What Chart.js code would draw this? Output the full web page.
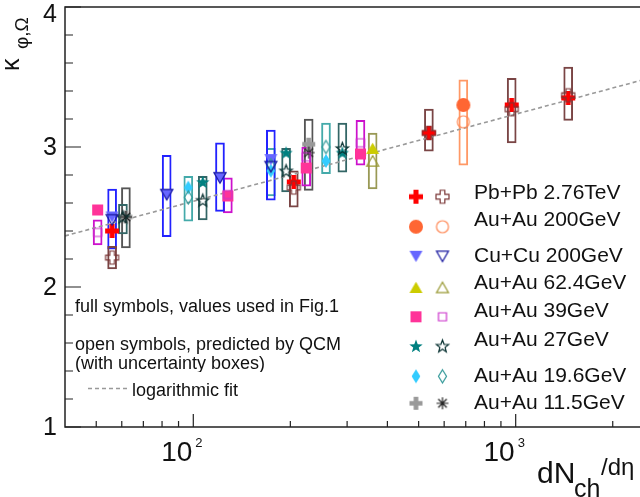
<!DOCTYPE html>
<html>
<head>
<meta charset="utf-8">
<title>kappa vs dNch/deta</title>
<script src="https://cdn.jsdelivr.net/npm/chart.js@4.4.1/dist/chart.umd.min.js"></script>
<style>
  body { margin: 0; background: #fff; }
  #wrap { width: 640px; height: 497px; }
</style>
</head>
<body>
<div id="wrap"><canvas id="kappaChart" width="640" height="497"></canvas></div>
<script>
// values (x = dNch/deta, full = filled symbol, open = QCM, lo/hi = box)
const pbX    = [56, 205, 538, 972, 1455];
const pbFull = [2.40, 2.75, 3.10, 3.30, 3.35];
const pbOpen = [2.21, 2.71, 3.10, 3.27, 3.37];
const pbLo   = [2.13, 2.57, 2.97, 3.03, 3.19];
const pbHi   = [2.29, 2.83, 3.27, 3.49, 3.57];

const au200X    = [688];
const au200Full = [3.30];
const au200Open = [3.18];
const au200Lo   = [2.87];
const au200Hi   = [3.48];

const cuX    = [56, 82.7, 121, 174];
const cuFull = [2.50, 2.66, 2.78, 2.91];
const cuOpen = [2.48, 2.66, 2.78, 2.86];
const cuLo   = [2.27, 2.36, 2.54, 2.62];
const cuHi   = [2.70, 2.94, 3.03, 3.12];

const au62X    = [360];
const au62Full = [2.99];
const au62Open = [2.90];
const au62Lo   = [2.70];
const au62Hi   = [3.10];

const au39X    = [50.5, 128, 224, 330];
const au39Full = [2.55, 2.65, 2.85, 2.95];
const au39Open = [2.39, 2.66, 2.93, 3.03];
const au39Lo   = [2.30, 2.53, 2.72, 2.87];
const au39Hi   = [2.48, 2.78, 3.00, 3.19];

const au27X    = [60.5, 107, 194, 290];
const au27Full = [null, 2.75, 2.96, 2.96];
const au27Open = [2.50, 2.62, 2.83, 2.99];
const au27Lo   = [2.38, 2.48, 2.68, 2.82];
const au27Hi   = [2.59, 2.79, 2.99, 3.17];

const au19X    = [96.5, 174, 258];
const au19Full = [2.71, 2.83, 2.90];
const au19Open = [2.64, 2.87, 3.00];
const au19Lo   = [2.47, 2.65, 2.81];
const au19Hi   = [2.79, 2.99, 3.17];

const au11X    = [61.8, 228];
const au11Full = [2.50, 3.02];
const au11Open = [2.50, 2.96];
const au11Lo   = [2.28, 2.69];
const au11Hi   = [2.71, 3.20];

// logarithmic fit (straight on a log x axis)
const fitX = [40, 2430];
const fitY = [2.365, 3.474];

const seriesNames = ["Pb+Pb 2.76TeV", "Au+Au 200GeV", "Cu+Cu 200GeV", "Au+Au 62.4GeV",
                     "Au+Au 39GeV", "Au+Au 27GeV", "Au+Au 19.6GeV", "Au+Au 11.5GeV"];

const xMajorTicks = [100, 1000];
const xTickLabels = ["2", "3"];   // exponents of 10
const xMinorTicks = [50, 60, 70, 80, 90, 200, 300, 400, 500, 600, 700, 800, 900, 2000];
const yMajorTicks = [1, 2, 3, 4];
const yTickLabels = ["1", "2", "3", "4"];
const yMinorTicks = [1.2, 1.4, 1.6, 1.8, 2.2, 2.4, 2.6, 2.8, 3.2, 3.4, 3.6, 3.8];

const FONT = '"Liberation Sans", Arial, sans-serif';

// draw a ROOT-like marker on a small canvas, used as pointStyle
function marker(shape, color, filled, size) {
  const c = document.createElement("canvas");
  const d = Math.ceil(size) + 4;
  c.width = d; c.height = d;
  const g = c.getContext("2d");
  g.translate(d / 2, d / 2);
  g.fillStyle = color;
  g.strokeStyle = color;
  g.lineWidth = 1.2;
  const h = size / 2;
  g.beginPath();
  if (shape === "plus") {
    const t = size * 0.18;
    g.moveTo(-t, -h); g.lineTo(t, -h); g.lineTo(t, -t); g.lineTo(h, -t); g.lineTo(h, t); g.lineTo(t, t);
    g.lineTo(t, h); g.lineTo(-t, h); g.lineTo(-t, t); g.lineTo(-h, t); g.lineTo(-h, -t); g.lineTo(-t, -t);
    g.closePath();
  } else if (shape === "circle") {
    g.arc(0, 0, h, 0, Math.PI * 2);
  } else if (shape === "triDown") {
    g.moveTo(-h, -h * 0.85); g.lineTo(h, -h * 0.85); g.lineTo(0, h * 0.9); g.closePath();
  } else if (shape === "triUp") {
    g.moveTo(-h, h * 0.85); g.lineTo(h, h * 0.85); g.lineTo(0, -h * 0.9); g.closePath();
  } else if (shape === "square") {
    g.rect(-h, -h, size, size);
  } else if (shape === "star") {
    for (let i = 0; i < 10; i++) {
      const r = i % 2 ? h * 0.42 : h;
      const a = -Math.PI / 2 + i * Math.PI / 5;
      g.lineTo(r * Math.cos(a), r * Math.sin(a) + h * 0.08);
    }
    g.closePath();
  } else if (shape === "diamond") {
    g.moveTo(0, -h); g.lineTo(h * 0.62, 0); g.lineTo(0, h); g.lineTo(-h * 0.62, 0); g.closePath();
  } else if (shape === "asterisk") {
    for (let i = 0; i < 4; i++) {
      const a = i * Math.PI / 4;
      g.moveTo(-h * Math.cos(a), -h * Math.sin(a));
      g.lineTo(h * Math.cos(a), h * Math.sin(a));
    }
  }
  if (filled) g.fill(); else g.stroke();
  return c;
}

const groups = [
  { x: pbX, full: pbFull, open: pbOpen, lo: pbLo, hi: pbHi,
    fullM: marker("plus", "#ff0000", true, 14), openM: marker("plus", "#7a3535", false, 13), box: "#7a4545" },
  { x: au200X, full: au200Full, open: au200Open, lo: au200Lo, hi: au200Hi,
    fullM: marker("circle", "#ff6633", true, 14), openM: marker("circle", "#ff8855", false, 12), box: "#ff9966" },
  { x: cuX, full: cuFull, open: cuOpen, lo: cuLo, hi: cuHi,
    fullM: marker("triDown", "#6666ff", true, 13), openM: marker("triDown", "#1a1aa0", false, 12), box: "#2222ff" },
  { x: au62X, full: au62Full, open: au62Open, lo: au62Lo, hi: au62Hi,
    fullM: marker("triUp", "#cccc00", true, 13), openM: marker("triUp", "#999933", false, 12), box: "#999955" },
  { x: au39X, full: au39Full, open: au39Open, lo: au39Lo, hi: au39Hi,
    fullM: marker("square", "#ff3399", true, 11), openM: marker("square", "#cc33cc", false, 8), box: "#cc11cc" },
  { x: au27X, full: au27Full, open: au27Open, lo: au27Lo, hi: au27Hi,
    fullM: marker("star", "#008080", true, 14), openM: marker("star", "#0a3333", false, 13), box: "#336666" },
  { x: au19X, full: au19Full, open: au19Open, lo: au19Lo, hi: au19Hi,
    fullM: marker("diamond", "#33ccff", true, 14), openM: marker("diamond", "#339999", false, 13), box: "#44aaaa" },
  { x: au11X, full: au11Full, open: au11Open, lo: au11Lo, hi: au11Hi,
    fullM: marker("plus", "#999999", true, 13), openM: marker("asterisk", "#222222", false, 12), box: "#555555" }
];

function pts(xs, ys) {
  const out = [];
  xs.forEach((v, i) => { if (ys[i] !== null) out.push({ x: v, y: ys[i] }); });
  return out;
}

const datasets = [];
groups.forEach(g => {
  datasets.push({
    type: "bar",
    data: g.x.map((v, i) => ({ x: v, y: [g.lo[i], g.hi[i]] })),
    backgroundColor: "rgba(0,0,0,0)",
    borderColor: g.box,
    borderWidth: 1.3,
    borderSkipped: false,
    barThickness: 9,
    grouped: false,
    order: 30
  });
  datasets.push({ type: "scatter", data: pts(g.x, g.full), pointStyle: g.fullM, pointRadius: 5, order: 20 });
  datasets.push({ type: "scatter", data: pts(g.x, g.open), pointStyle: g.openM, pointRadius: 5, order: 10 });
});
datasets.push({
  type: "line",
  data: fitX.map((v, i) => ({ x: v, y: fitY[i] })),
  borderColor: "#999999",
  borderWidth: 1.6,
  borderDash: [4, 3],
  pointRadius: 0,
  fill: false,
  order: 25
});

// axes frame, ticks, labels, legend and notes
const decor = {
  id: "decor",
  afterDraw(chart) {
    const { ctx, chartArea: a, scales: { x, y } } = chart;
    ctx.save();

    ctx.strokeStyle = "#222";
    ctx.lineWidth = 1.5;
    ctx.beginPath();
    ctx.moveTo(a.right, a.top); ctx.lineTo(a.left, a.top); ctx.lineTo(a.left, a.bottom); ctx.lineTo(a.right, a.bottom);
    ctx.stroke();

    ctx.lineWidth = 1.2;
    ctx.beginPath();
    yMajorTicks.forEach(v => { const p = y.getPixelForValue(v); ctx.moveTo(a.left, p); ctx.lineTo(a.left + 16, p); });
    yMinorTicks.forEach(v => { const p = y.getPixelForValue(v); ctx.moveTo(a.left, p); ctx.lineTo(a.left + 8, p); });
    xMajorTicks.forEach(v => { const p = x.getPixelForValue(v); ctx.moveTo(p, a.bottom); ctx.lineTo(p, a.bottom - 13); });
    xMinorTicks.forEach(v => { const p = x.getPixelForValue(v); ctx.moveTo(p, a.bottom); ctx.lineTo(p, a.bottom - 6); });
    ctx.stroke();

    ctx.fillStyle = "#111";
    // y tick labels
    ctx.font = "25px " + FONT;
    ctx.textAlign = "right";
    ctx.textBaseline = "middle";
    yMajorTicks.forEach((v, i) => {
      const p = Math.max(y.getPixelForValue(v) + 1.5, 15);
      ctx.fillText(yTickLabels[i], a.left - 8, p);
    });
    // x tick labels 10^n
    ctx.textBaseline = "alphabetic";
    xMajorTicks.forEach((v, i) => {
      const p = x.getPixelForValue(v);
      ctx.font = "28px " + FONT;
      ctx.textAlign = "right";
      ctx.fillText("10", p - 1, 461);
      ctx.font = "13px " + FONT;
      ctx.textAlign = "left";
      ctx.fillText(xTickLabels[i], p + 2, 447);
    });

    // x title
    ctx.textAlign = "left";
    ctx.font = "30px " + FONT;
    ctx.fillText("dN", 537, 483);
    ctx.font = "25px " + FONT;
    ctx.fillText("ch", 574, 497);
    ctx.font = "24px " + FONT;
    ctx.fillText("/d\u03b7", 601, 475);

    // y title, rotated
    ctx.save();
    ctx.translate(18.5, 71);
    ctx.rotate(-Math.PI / 2);
    ctx.font = "25px " + FONT;
    ctx.fillText("\u03ba", 0, 0);
    ctx.font = "19px " + FONT;
    ctx.fillText("\u03c6,\u03a9", 22, 9);
    ctx.restore();

    // legend
    const legMarkY = [196.7, 226.7, 256.3, 287.5, 316.8, 346, 376.3, 403.3];
    const legTextY = [192.8, 220.5, 255.8, 282.8, 311.7, 340.5, 376.2, 402.8];
    ctx.font = "21px " + FONT;
    ctx.textBaseline = "middle";
    groups.forEach((g, i) => {
      ctx.drawImage(g.fullM, 416 - g.fullM.width / 2, legMarkY[i] - g.fullM.height / 2);
      ctx.drawImage(g.openM, 442.5 - g.openM.width / 2, legMarkY[i] - g.openM.height / 2);
      ctx.fillText(seriesNames[i], 474, legTextY[i]);
    });

    // notes
    ctx.textBaseline = "alphabetic";
    ctx.font = "18px " + FONT;
    ctx.fillText("full symbols, values used in Fig.1", 75, 312);
    ctx.fillText("open symbols, predicted by QCM", 75, 350);
    ctx.save();
    ctx.beginPath();
    ctx.rect(70, 350, 300, 22);
    ctx.clip();
    ctx.fillText("(with uncertainty boxes)", 75, 369);
    ctx.restore();
    ctx.fillText("logarithmic fit", 132, 396);
    ctx.strokeStyle = "#999";
    ctx.lineWidth = 1.6;
    ctx.setLineDash([4, 3]);
    ctx.beginPath();
    ctx.moveTo(88, 388.5); ctx.lineTo(127, 388.5);
    ctx.stroke();

    ctx.restore();
  }
};

new Chart(document.getElementById("kappaChart"), {
  type: "scatter",
  data: { datasets: datasets },
  options: {
    responsive: false,
    animation: false,
    events: [],
    layout: { autoPadding: false, padding: { left: 65, top: 7, right: 0, bottom: 70 } },
    plugins: { legend: { display: false }, tooltip: { enabled: false } },
    scales: {
      x: { type: "logarithmic", min: 40, max: 2430, display: false, offset: false },
      y: { type: "linear", min: 1, max: 4, display: false }
    }
  },
  plugins: [decor]
});
</script>
</body>
</html>
